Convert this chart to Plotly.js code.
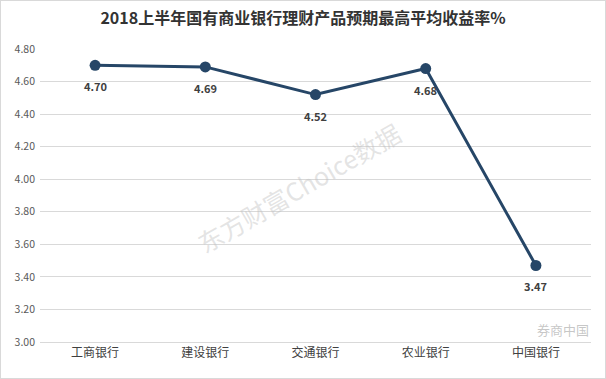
<!DOCTYPE html>
<html><head><meta charset="utf-8">
<script src="https://cdn.plot.ly/plotly-3.0.1.min.js"></script>
<style>html,body{margin:0;padding:0;background:#fff}#c{width:606px;height:379px;box-sizing:border-box;border:1px solid #d9d9d9}</style>
</head><body><div id="c"></div>
<script>
const categories = ['工商银行','建设银行','交通银行','农业银行','中国银行'];
const values = [4.70, 4.69, 4.52, 4.68, 3.47];
const valueLabels = ['4.70','4.69','4.52','4.68','3.47'];
const yTicks = [3.0,3.2,3.4,3.6,3.8,4.0,4.2,4.4,4.6,4.8];
const font = '"Noto Sans CJK SC","Microsoft YaHei",sans-serif';
const trace = {
  x: categories, y: values, type: 'scatter', mode: 'lines+markers',
  line: {color: '#264667', width: 3},
  marker: {color: '#264667', size: 11},
  cliponaxis: false, hoverinfo: 'none'
};
const labelAnns = categories.map((c, i) => ({
  x: c, y: values[i], xref: 'x', yref: 'y', text: '<b>' + valueLabels[i] + '</b>',
  showarrow: false, yshift: -21, font: {family: font, size: 11, color: '#404040'}
}));
const layout = {
  width: 604, height: 377,
  margin: {l: 39, r: 14, t: 48, b: 36},
  paper_bgcolor: '#fff', plot_bgcolor: '#fff',
  showlegend: false,
  title: {text: '<b>2018上半年国有商业银行理财产品预期最高平均收益率%</b>', x: 0.5, xanchor: 'center', y: 0.955, yanchor: 'middle',
    font: {family: font, size: 16, color: '#333333'}},
  xaxis: {type: 'category', range: [-0.5, 4.5], showgrid: false, zeroline: false,
    showline: true, linecolor: '#d9d9d9', linewidth: 1, ticks: '',
    tickfont: {family: font, size: 12, color: '#404040'}},
  yaxis: {range: [3.0, 4.8], tickvals: yTicks, ticktext: yTicks.map(v => v.toFixed(2)),
    showgrid: true, gridcolor: '#d9d9d9', gridwidth: 1, zeroline: false, showline: false,
    tickfont: {family: font, size: 10.5, color: '#595959'}, ticks: '', ticklabelstandoff: 4},
  annotations: labelAnns.concat([
    {text: '东方财富Choice数据', xref: 'paper', yref: 'paper', x: 0.47, y: 0.53, showarrow: false,
     textangle: -30, font: {family: font, size: 25, color: 'rgba(190,190,190,0.42)'}},
    {text: '券商中国', xref: 'paper', yref: 'paper', x: 1.0, y: 0.005, xanchor: 'right', yanchor: 'bottom', showarrow: false,
     font: {family: font, size: 13, color: 'rgba(150,150,150,0.55)'}}
  ])
};
Plotly.newPlot('c', [trace], layout, {displayModeBar: false, staticPlot: true});
</script></body></html>
